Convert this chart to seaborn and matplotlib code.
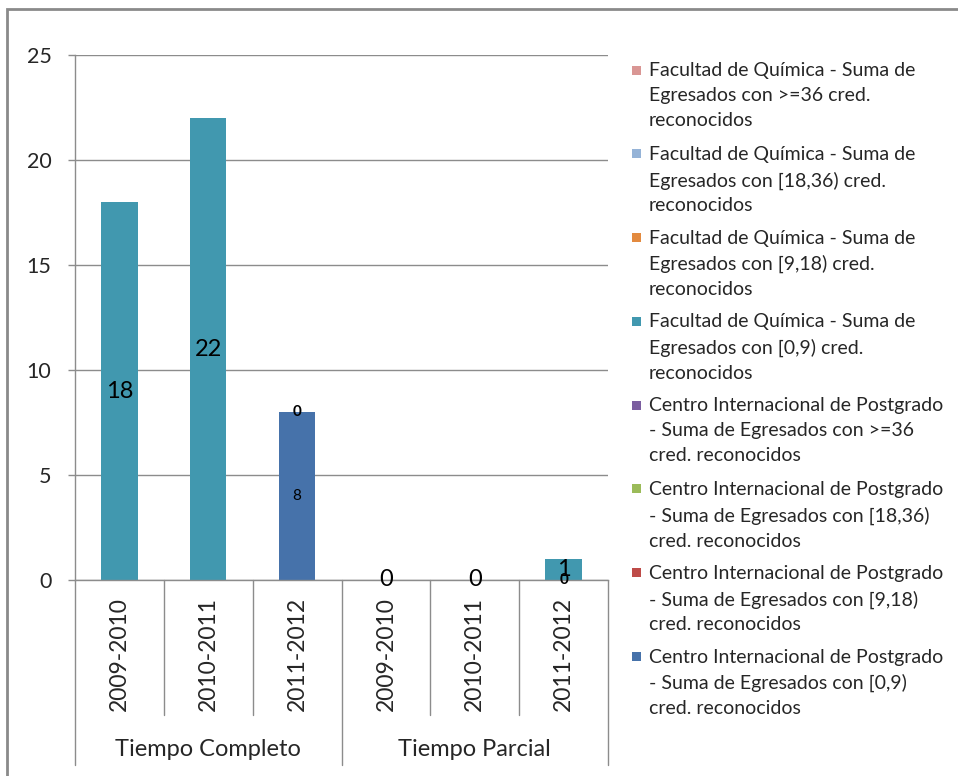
import matplotlib.pyplot as plt
import numpy as np
import pandas as pd
import seaborn as sns
from matplotlib.lines import Line2D
from matplotlib.patches import Rectangle
from matplotlib.transforms import blended_transform_factory

# ── Data ──────────────────────────────────────────────────────────────────────
groups = ["Tiempo Completo", "Tiempo Parcial"]
years = ["2009-2010", "2010-2011", "2011-2012"]

# values per (group, year), NaN = no value shown
fq_0_9 = [18, 22, np.nan, 0, 0, 1]
cip_0_9 = [np.nan, np.nan, 8, np.nan, np.nan, 0]
cip_ge36 = [np.nan, np.nan, 0, np.nan, np.nan, np.nan]

legend_labels = [
    "Facultad de Química - Suma de\nEgresados con >=36 cred.\nreconocidos",
    "Facultad de Química - Suma de\nEgresados con [18,36) cred.\nreconocidos",
    "Facultad de Química - Suma de\nEgresados con [9,18) cred.\nreconocidos",
    "Facultad de Química - Suma de\nEgresados con [0,9) cred.\nreconocidos",
    "Centro Internacional de Postgrado\n- Suma de Egresados con >=36\ncred. reconocidos",
    "Centro Internacional de Postgrado\n- Suma de Egresados con [18,36)\ncred. reconocidos",
    "Centro Internacional de Postgrado\n- Suma de Egresados con [9,18)\ncred. reconocidos",
    "Centro Internacional de Postgrado\n- Suma de Egresados con [0,9)\ncred. reconocidos",
]
legend_colors = ["#D99694", "#95B3D7", "#E38A3F", "#4198AF",
                 "#7B5EA0", "#9BBB59", "#BE4B48", "#4672AA"]
TEAL = "#4198AF"
BLUE = "#4672AA"
GRID = "#8C8C8C"

keys = [f"{g}|{y}" for g in groups for y in years]
df = pd.DataFrame({"key": keys, "fq": fq_0_9, "cip": cip_0_9, "cip36": cip_ge36})
df["fq_top"] = df["cip"].fillna(0) + df["fq"].fillna(0)
df["cip_h"] = df["cip"].fillna(0)

# ── Plot ──────────────────────────────────────────────────────────────────────
sns.set_theme(style="white")
plt.rcParams["font.family"] = ["Lato", "DejaVu Sans"]

W, H = 958, 776
fig = plt.figure(figsize=(W / 100, H / 100), dpi=100)
ax = fig.add_axes([75 / W, 1 - 580 / H, (608 - 75) / W, (580 - 55) / H])

sns.barplot(data=df, x="key", y="fq_top", order=keys, color=TEAL, width=0.41,
            saturation=1, errorbar=None, linewidth=0, ax=ax)
sns.barplot(data=df, x="key", y="cip_h", order=keys, color=BLUE, width=0.41,
            saturation=1, errorbar=None, linewidth=0, ax=ax)

# data labels
for i, row in df.iterrows():
    base = row["cip_h"]
    if not np.isnan(row["fq"]):
        ax.text(i, base + row["fq"] / 2, f"{int(row['fq'])}", ha="center",
                va="center", fontsize=17, color="black")
    if not np.isnan(row["cip"]):
        weight = "bold" if row["cip"] == 0 else "normal"
        ax.text(i, row["cip"] / 2, f"{int(row['cip'])}", ha="center",
                va="center", fontsize=11, fontweight=weight, color="black")
    if not np.isnan(row["cip36"]):
        top = base + (0 if np.isnan(row["fq"]) else row["fq"])
        ax.text(i, top + row["cip36"] / 2, f"{int(row['cip36'])}", ha="center",
                va="center", fontsize=11, fontweight="bold", color="black")

ax.set_ylim(0, 25)
ax.set_xlim(-0.5, len(keys) - 0.5)
ax.set_yticks(range(0, 26, 5))
ax.yaxis.grid(True, color=GRID, linewidth=1)
ax.set_axisbelow(True)
ax.set_xlabel("")
ax.set_ylabel("")
for side in ["top", "right"]:
    ax.spines[side].set_visible(False)
for side in ["left", "bottom"]:
    ax.spines[side].set_color(GRID)
    ax.spines[side].set_linewidth(1)
ax.tick_params(axis="y", left=True, length=5, width=1, color=GRID,
               labelsize=15.5, pad=12)
ax.tick_params(axis="x", bottom=False, labelbottom=False)

# multi-level category axis
trans = blended_transform_factory(ax.transData, ax.transAxes)
inner_y = -(715 - 580) / 525
outer_y = -(765 - 580) / 525
for xpos in np.arange(-0.5, len(keys), 1.0):
    bottom = outer_y if xpos in (-0.5, 2.5, 5.5) else inner_y
    ax.add_line(Line2D([xpos, xpos], [0, bottom], transform=trans,
                       color=GRID, linewidth=1, clip_on=False))
for i, k in enumerate(keys):
    ax.text(i, -(654 - 580) / 525, k.split("|")[1], transform=trans,
            rotation=90, ha="center", va="center", fontsize=16.5)
for j, g in enumerate(groups):
    ax.text(j * 3 + 1, -(750 - 580) / 525, g, transform=trans,
            ha="center", va="center", fontsize=17)

# legend drawn by hand so the square sits on the first line
for n, (lab, col) in enumerate(zip(legend_labels, legend_colors)):
    yc = 70 + n * 83.8
    fig.add_artist(Rectangle((632 / W, 1 - (yc + 4.5) / H), 9 / W, 9 / H,
                             transform=fig.transFigure, color=col, lw=0))
    fig.text(649 / W, 1 - (yc - 8) / H, lab, va="top", ha="left",
             fontsize=14, linespacing=1.56)

# outer chart frame (only left and top edges visible)
fig.add_artist(Rectangle((7 / W, -0.1), 1.2, 1.1 - 9 / H,
                         transform=fig.transFigure, fill=False,
                         edgecolor="#8A8A8A", linewidth=2))

plt.savefig("out.png", dpi=100)
plt.close()
